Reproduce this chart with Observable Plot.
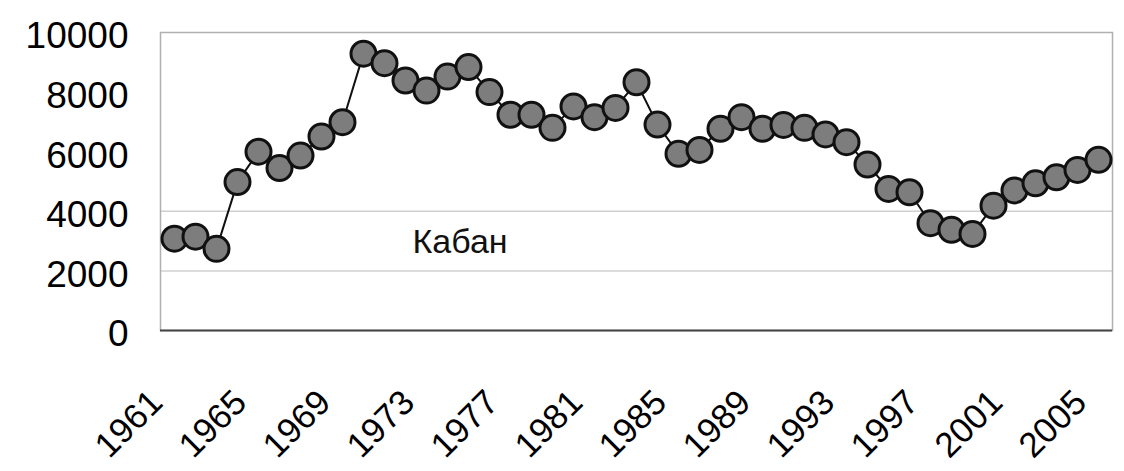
<!DOCTYPE html>
<html>
<head>
<meta charset="utf-8">
<script src="https://cdn.jsdelivr.net/npm/d3@7"></script>
<script src="https://cdn.jsdelivr.net/npm/@observablehq/plot@0.6"></script>
<style>
  html, body { margin: 0; padding: 0; background: #fff; }
  #chart svg { display: block; }
</style>
</head>
<body>
<div id="chart"></div>
<script>
const years = d3.range(1961, 2006);
const values = [
  3080, 3150, 2740, 4980, 6000, 5450, 5870, 6510, 6990, 9290,
  8970, 8390, 8050, 8520, 8840, 8000, 7240, 7240, 6800, 7520,
  7160, 7470, 8330, 6910, 5930, 6060, 6770, 7160, 6770, 6900,
  6800, 6580, 6320, 5570, 4750, 4640, 3600, 3380, 3240, 4190,
  4700, 4940, 5140, 5390, 5730
];
const yTicks = [0, 2000, 4000, 6000, 8000, 10000];
const xTickLabels = [1961, 1965, 1969, 1973, 1977, 1981, 1985, 1989, 1993, 1997, 2001, 2005];
const gridValues = [2000, 4000];
const seriesLabel = ["Кабан"];

const data = years.map((year, i) => ({year, value: values[i]}));

const chart = Plot.plot({
  width: 1124,
  height: 471,
  marginLeft: 160,
  marginRight: 12,
  marginTop: 32,
  marginBottom: 141,
  style: {fontFamily: "'Liberation Sans', Arial, sans-serif", background: "#fff", color: "#000"},
  x: {type: "point", domain: years, padding: 0.5},
  y: {domain: [0, 10000]},
  marks: [
    Plot.ruleY(gridValues, {stroke: "#d0d0d0", strokeWidth: 1.5}),
    Plot.frame({stroke: "#b0b0b0", strokeWidth: 1.5}),
    Plot.ruleY([0], {stroke: "#444", strokeWidth: 2}),
    Plot.axisY({ticks: yTicks, tickSize: 0, tickPadding: 32, fontSize: 37, tickFormat: d => String(d), label: null, dy: 4}),
    Plot.axisX({ticks: xTickLabels, tickSize: 0, tickRotate: -45, tickPadding: 66, fontSize: 35, tickFormat: d => String(d), label: null, dx: -18}),
    Plot.line(data, {x: "year", y: "value", stroke: "#111", strokeWidth: 2}),
    Plot.dot(data, {x: "year", y: "value", r: 12.5, fill: "#7d7d7d", stroke: "#111", strokeWidth: 3}),
    Plot.text(seriesLabel, {frameAnchor: "top-left", dx: 252, dy: 196, textAnchor: "start", fontSize: 34, fill: "#111", text: d => d})
  ]
});
document.getElementById("chart").appendChild(chart);
</script>
</body>
</html>
